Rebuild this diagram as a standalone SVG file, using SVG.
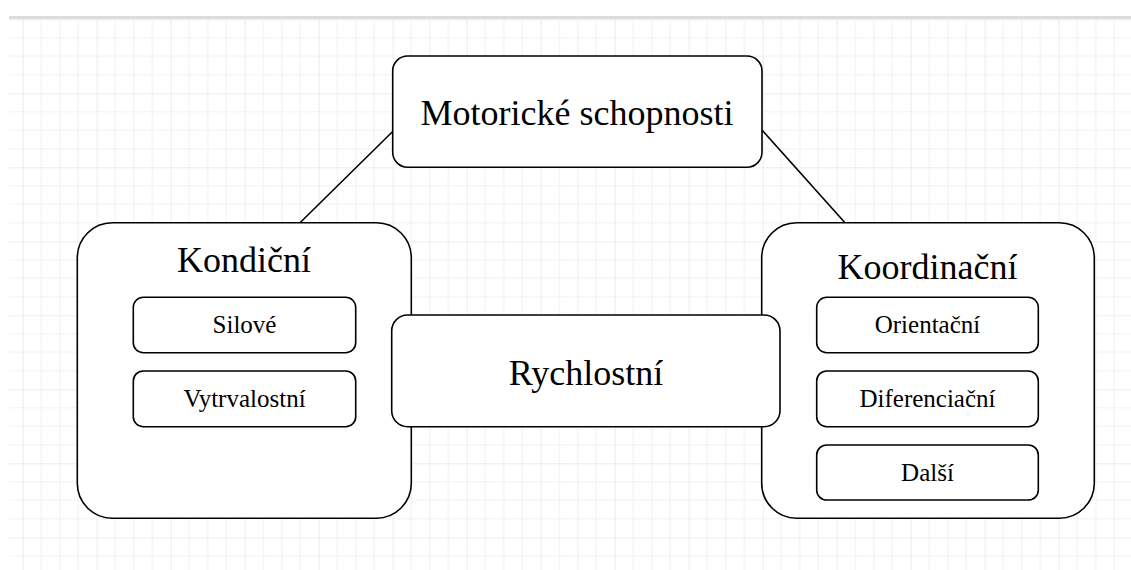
<svg xmlns="http://www.w3.org/2000/svg" width="1131" height="570" viewBox="0 0 1131 570">
<defs>
<pattern id="grid" patternUnits="userSpaceOnUse" x="22.7" y="19.3" width="74" height="74">
<path d="M18.5 0V74M37 0V74M55.5 0V74M0 18.5H74M0 37H74M0 55.5H74" stroke="#f2f2f2" stroke-width="1.2" fill="none"/>
<path d="M0 0V74M0 0H74" stroke="#e6e6e6" stroke-width="1.4" fill="none"/>
</pattern>
<style>
.box{fill:#fff;stroke:#000;stroke-width:1.6}
.big{font-family:"Liberation Serif","Times New Roman",serif;font-size:36px;fill:#000;text-anchor:middle}
.small{font-family:"Liberation Serif","Times New Roman",serif;font-size:25px;fill:#000;text-anchor:middle}
.conn{stroke:#000;stroke-width:1.6;fill:none}
</style>
</defs>
<rect x="0" y="0" width="1131" height="570" fill="#fff"/>
<rect x="9" y="16" width="1122" height="3" fill="#dcdcdc"/>
<rect x="9" y="19" width="1122" height="551" fill="url(#grid)"/>
<g id="connectors">
<line class="conn" x1="392.7" y1="131.5" x2="300" y2="222.7"/>
<line class="conn" x1="762" y1="130" x2="845" y2="222.7"/>
</g>
<g id="motoricke">
<rect class="box" x="392.7" y="56" width="369.3" height="111.3" rx="15" ry="15"/>
<text class="big" x="577" y="125">Motorické schopnosti</text>
</g>
<g id="kondicni">
<rect class="box" x="77.3" y="222.7" width="334" height="295.6" rx="35" ry="35"/>
<text class="big" x="244" y="271.7">Kondiční</text>
</g>
<g id="silove">
<rect class="box" x="133.3" y="297.3" width="222.4" height="55.4" rx="10" ry="10"/>
<text class="small" x="244.5" y="332.7">Silové</text>
</g>
<g id="vytrvalostni">
<rect class="box" x="133.3" y="371" width="222.4" height="55.7" rx="10" ry="10"/>
<text class="small" x="244.5" y="406.7">Vytrvalostní</text>
</g>
<g id="koordinacni">
<rect class="box" x="761.7" y="222.7" width="332.6" height="295.6" rx="35" ry="35"/>
<text class="big" x="927.5" y="279.3">Koordinační</text>
</g>
<g id="orientacni">
<rect class="box" x="816.7" y="297.3" width="221.6" height="55.4" rx="10" ry="10"/>
<text class="small" x="927.5" y="332.7">Orientační</text>
</g>
<g id="diferenciacni">
<rect class="box" x="816.7" y="371" width="221.6" height="55.7" rx="10" ry="10"/>
<text class="small" x="927.5" y="406.7">Diferenciační</text>
</g>
<g id="dalsi">
<rect class="box" x="816.7" y="445" width="221.6" height="55" rx="10" ry="10"/>
<text class="small" x="927.5" y="480.7">Další</text>
</g>
<g id="rychlostni">
<rect class="box" x="391.7" y="315" width="388.3" height="111.7" rx="16" ry="16"/>
<text class="big" x="586" y="385">Rychlostní</text>
</g>
</svg>
